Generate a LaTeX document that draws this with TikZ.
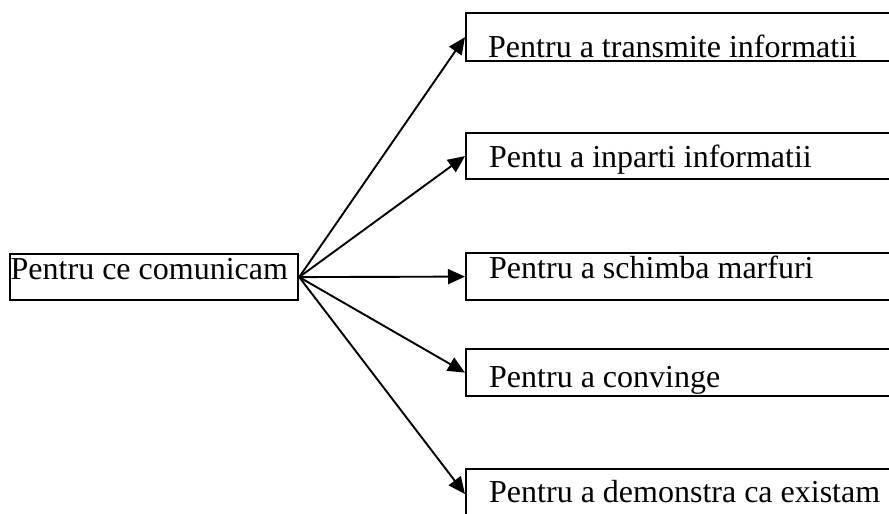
\documentclass[tikz,border=0pt]{standalone}
\usepackage{fontspec}
\setmainfont{Liberation Serif}
\usetikzlibrary{arrows.meta}
\begin{document}
\begin{tikzpicture}[x=1pt,y=-1pt,
  framebox/.style={draw, line width=2.2pt, inner sep=0pt, anchor=north west},
  label/.style={anchor=base west, inner sep=0pt, font=\fontsize{32}{38}\selectfont},
  link/.style={line width=1.9pt, -{Triangle[length=17pt,width=15pt]}}]
\clip (0,0) rectangle (889,514);
\useasboundingbox (0,0) rectangle (889,514);
% source box
\node[framebox, minimum width=288pt, minimum height=46pt] (src) at (9,253) {};
\node[label] (srct) at (10.5,279) {Pentru ce comunicam};
% target boxes (they run off the right edge)
\node[framebox, minimum width=440pt, minimum height=48pt] (b1) at (465,12) {};
\node[framebox, minimum width=440pt, minimum height=46pt] (b2) at (465,132) {};
\node[framebox, minimum width=440pt, minimum height=47pt] (b3) at (465,252) {};
\node[framebox, minimum width=440pt, minimum height=47pt] (b4) at (465,348) {};
\node[framebox, minimum width=440pt, minimum height=50pt] (b5) at (465,468) {};
\node[label] (t1) at (488,57) {Pentru a transmite informatii};
\node[label] (t2) at (489,167) {Pentu a inparti informatii};
\node[label] (t3) at (489,278) {Pentru a schimba marfuri};
\node[label] (t4) at (489,387) {Pentru a convinge};
\node[label] (t5) at (489,502) {Pentru a demonstra ca existam};
% connectors
\coordinate (o) at (src.east);
\foreach \b in {b1,b2,b3,b4,b5}
  \draw[link] (o) -- (\b.west);
\end{tikzpicture}
\end{document}
